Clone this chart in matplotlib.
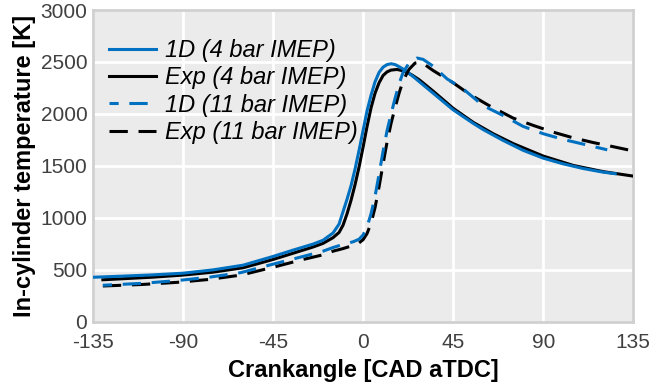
import matplotlib
matplotlib.use("Agg")
from matplotlib import pyplot as plt

plt.rcParams['font.family'] = ['Liberation Sans', 'DejaVu Sans']
plt.rcParams['axes.unicode_minus'] = False

# 1D model, 4 bar IMEP
ca_1d_4 = [-135, -120, -105, -90, -75, -60, -45, -35, -25, -20, -15, -12, -10, -8, -6, -4, -2, 0,
           2, 4, 6, 8, 10, 12, 14, 16, 18, 21, 25, 30, 35, 40, 45, 50, 55, 60, 70, 80, 90, 100,
           110, 120, 126]
t_1d_4 = [429, 440, 452, 468, 500, 545, 629, 690, 748, 785, 855, 940, 1060, 1180, 1310, 1470, 1650, 1840,
          2030, 2180, 2310, 2400, 2450, 2475, 2483, 2475, 2455, 2420, 2360, 2280, 2200, 2120, 2040, 1975,
          1910, 1850, 1745, 1650, 1575, 1520, 1475, 1440, 1425]

# experiment, 4 bar IMEP
ca_exp_4 = [-130, -120, -105, -90, -75, -60, -45, -35, -25, -20, -15, -12, -10, -8, -6, -4, -2, 0,
            2, 4, 6, 8, 10, 12, 14, 17, 20, 24, 28, 35, 45, 55, 65, 75, 90, 105, 120, 135]
t_exp_4 = [405, 415, 430, 450, 478, 520, 600, 660, 720, 755, 810, 860, 930, 1040, 1170, 1320, 1490, 1680,
           1880, 2060, 2200, 2300, 2370, 2405, 2422, 2428, 2415, 2380, 2330, 2220, 2055, 1920, 1810,
           1715, 1595, 1505, 1445, 1402]

# 1D model, 11 bar IMEP
ca_1d_11 = [-130, -110, -93, -77, -61, -45, -30, -20, -15, -10, -5, -2, 0, 2, 4, 6, 8, 10, 12, 14,
            16, 18, 20, 23, 27, 30, 35, 42, 50, 60, 70, 80, 90, 100, 110, 122]
t_1d_11 = [352, 371, 397, 429, 474, 555, 629, 680, 715, 745, 770, 795, 835, 915, 1040, 1210, 1420, 1640,
           1840, 2000, 2150, 2290, 2400, 2490, 2538, 2525, 2460, 2337, 2241, 2080, 1985, 1880, 1810,
           1755, 1710, 1655]

# experiment, 11 bar IMEP
ca_exp_11 = [-130, -110, -93, -77, -61, -45, -30, -20, -15, -10, -5, -2, 0, 2, 4, 6, 8, 10, 12, 14,
             16, 18, 20, 23, 26, 29, 35, 45, 53, 63, 75, 85, 95, 105, 115, 125, 135]
t_exp_11 = [345, 360, 380, 408, 450, 525, 600, 645, 680, 705, 735, 760, 790, 850, 950, 1100, 1300, 1520,
            1730, 1910, 2060, 2200, 2320, 2430, 2490, 2500, 2418, 2300, 2192, 2080, 1960, 1890, 1825,
            1770, 1725, 1685, 1644]

blue = '#0070C0'

fig = plt.figure(figsize=(6.68, 3.85), dpi=100)
ax = fig.add_axes([0.139, 0.164, 0.809, 0.81])
ax.set_facecolor('#ebebeb')

lw = 2.2
ax.plot(ca_exp_4, t_exp_4, color='black', lw=lw, label='Exp (4 bar IMEP)', zorder=3)
ax.plot(ca_1d_4, t_1d_4, color=blue, lw=lw, label='1D (4 bar IMEP)', zorder=3)
ax.plot(ca_exp_11, t_exp_11, color='black', lw=lw, ls=(0, (6, 3.5)), label='Exp (11 bar IMEP)', zorder=3)
ax.plot(ca_1d_11, t_1d_11, color=blue, lw=lw, ls=(3, (6, 3.5)), label='1D (11 bar IMEP)', zorder=3)

ax.set_xlim(-135, 135)
ax.set_ylim(0, 3000)
ax.set_xticks([-135, -90, -45, 0, 45, 90, 135])
ax.set_yticks([0, 500, 1000, 1500, 2000, 2500, 3000])
ax.grid(True, color='white', lw=2)
ax.set_axisbelow(True)
ax.tick_params(length=0, labelsize=15, labelcolor='#404040')
ax.tick_params(axis='x', pad=8)
ax.tick_params(axis='y', pad=4)
for s in ax.spines.values():
    s.set_color('#d0d0d0')
    s.set_linewidth(2)

ax.set_xlabel('Crankangle [CAD aTDC]', fontsize=17, fontweight='bold', labelpad=5)
ax.set_ylabel('In-cylinder temperature [K]', fontsize=17, fontweight='bold', labelpad=3)

h, l = ax.get_legend_handles_labels()
order = [1, 0, 3, 2]
ax.legend([h[i] for i in order], [l[i] for i in order], loc='upper left',
          bbox_to_anchor=(-0.009, 0.975), frameon=False, prop={'size': 17, 'style': 'italic'},
          handlelength=2.0, handletextpad=0.35, labelspacing=0.18, borderaxespad=0.5)

fig.savefig('out.png', dpi=100)
